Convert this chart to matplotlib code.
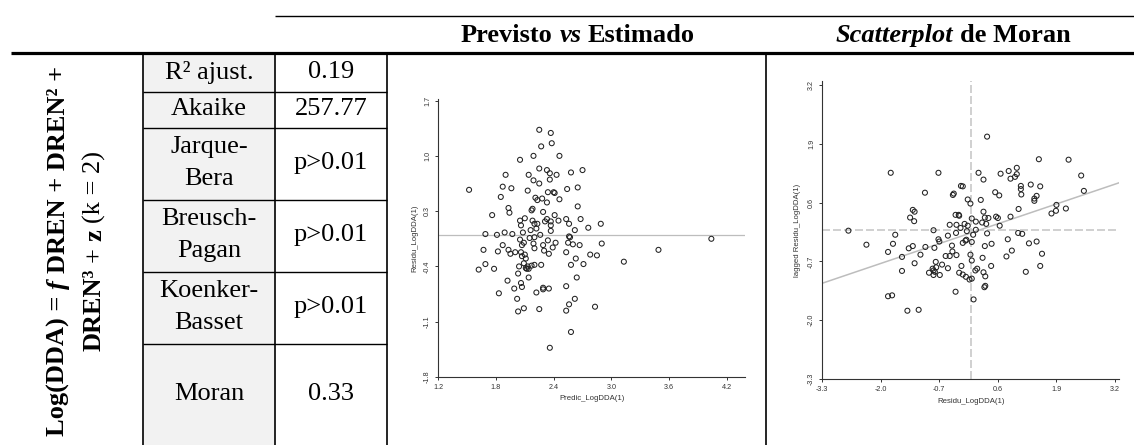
import matplotlib
matplotlib.use('Agg')
import matplotlib.pyplot as plt
from matplotlib.patches import Rectangle

plt.rcParams['font.family'] = 'Liberation Sans'
SERIF = 'Liberation Serif'

# --- dados ---
row_labels = ['R² ajust.', 'Akaike', 'Jarque-\nBera', 'Breusch-\nPagan', 'Koenker-\nBasset', 'Moran']
row_values = ['0.19', '257.77', 'p>0.01', 'p>0.01', 'p>0.01', '0.33']

# Previsto vs Estimado
pred_x = [2.25, 2.37, 2.38, 2.27, 2.19, 2.46, 2.05, 2.25, 2.33, 2.36,
          2.43, 2.58, 2.70, 1.90, 2.14, 2.19, 2.25, 2.36, 1.52, 1.87,
          1.96, 2.13, 2.34, 2.40, 2.41, 2.54, 2.65, 1.85, 2.21, 2.28,
          2.23, 2.33, 2.46, 1.93, 1.94, 2.18, 2.17, 2.29, 2.65, 1.76,
          2.05, 2.10, 2.06, 2.18, 2.20, 2.23, 2.31, 2.33, 2.37, 2.37,
          2.41, 2.45, 2.53, 2.56, 2.68, 2.62, 2.76, 2.89, 1.69, 1.81,
          1.89, 1.97, 2.08, 2.16, 2.22, 2.26, 2.37, 2.15, 2.05, 2.09,
          2.07, 2.19, 2.20, 2.29, 2.20, 2.34, 2.39, 2.42, 2.55, 2.56,
          2.57, 2.60, 2.67, 2.90, 1.67, 1.87, 1.82, 1.93, 1.95, 2.00,
          2.06, 2.07, 2.10, 2.11, 2.30, 2.35, 2.53, 2.63, 2.78, 2.85,
          3.13, 3.49, 4.04, 1.69, 1.62, 1.78, 2.04, 2.09, 2.11, 2.12,
          2.14, 2.13, 2.17, 2.20, 2.27, 2.58, 2.71, 2.03, 2.14, 2.64,
          1.92, 2.06, 2.07, 1.99, 2.29, 2.29, 2.35, 2.22, 2.53, 1.83,
          2.02, 2.62, 2.56, 2.03, 2.09, 2.25, 2.53, 2.83, 2.58, 2.36]
resid_y = [1.33, 1.29, 1.16, 1.12, 1.00, 1.00, 0.95, 0.84, 0.82, 0.78,
           0.76, 0.79, 0.82, 0.76, 0.76, 0.69, 0.65, 0.70, 0.57, 0.61,
           0.59, 0.56, 0.54, 0.54, 0.53, 0.58, 0.60, 0.48, 0.47, 0.46,
           0.44, 0.41, 0.45, 0.34, 0.28, 0.33, 0.31, 0.29, 0.36, 0.25,
           0.18, 0.21, 0.12, 0.18, 0.14, 0.14, 0.17, 0.20, 0.17, 0.12,
           0.25, 0.18, 0.20, 0.14, 0.20, 0.06, 0.09, 0.14, 0.01, 0.00,
           0.03, 0.01, 0.03, 0.06, 0.08, 0.00, 0.05, -0.04, -0.06, -0.10,
           -0.13, -0.11, -0.03, -0.13, -0.17, -0.07, -0.16, -0.10, -0.10, -0.02,
           -0.03, -0.12, -0.13, -0.11, -0.19, -0.13, -0.21, -0.19, -0.24, -0.22,
           -0.22, -0.27, -0.25, -0.30, -0.20, -0.24, -0.22, -0.30, -0.25, -0.26,
           -0.34, -0.19, -0.05, -0.37, -0.44, -0.43, -0.40, -0.36, -0.42, -0.43,
           -0.43, -0.40, -0.39, -0.38, -0.38, -0.38, -0.37, -0.49, -0.54, -0.54,
           -0.58, -0.61, -0.66, -0.68, -0.67, -0.69, -0.68, -0.73, -0.65, -0.74,
           -0.81, -0.81, -0.88, -0.97, -0.93, -0.94, -0.96, -0.91, -1.23, -1.43]

# Scatterplot de Moran
moran_x = [0.36, 1.51, 2.17, -1.78, -0.72, 0.17, 0.66, 0.84, 1.02, 1.02,
           0.98, 0.88, 0.28, 2.45, 1.33, 1.11, 1.11, 1.54, -0.22, -0.18,
           -1.02, -0.38, -0.40, 0.54, 0.63, 1.12, 1.46, 1.41, 1.41, 2.51,
           -0.07, -0.01, 0.22, 1.90, 1.89, 1.79, 2.11, -1.29, -1.25, -1.35,
           -1.26, 0.28, 0.56, 0.60, 0.88, 1.06, -0.34, -0.27, -0.26, 0.02,
           0.31, 0.25, 0.34, 0.39, 0.64, 0.11, -0.14, -0.07, -0.47, -0.32,
           -0.23, 0.11, -0.83, -0.33, -0.51, -0.09, 0.05, 0.36, 1.05, 1.14,
           -2.72, -1.68, -2.32, -0.72, -0.70, -0.12, -0.10, -0.18, 0.02, 0.31,
           0.46, 0.82, 1.29, 1.46, -1.73, -1.29, -1.38, -1.01, -0.81, -0.42,
           -0.41, -1.84, 0.91, -1.53, -1.12, -0.56, -0.47, -0.32, -0.01, 0.79,
           1.58, -1.25, -0.78, -0.64, -0.51, -0.85, -0.80, -0.77, -0.21, 0.02,
           0.26, 0.45, 1.54, -1.53, -0.93, -0.83, -0.69, -0.83, -0.26, -0.18,
           -0.11, -0.03, 0.02, 0.10, 0.14, 0.28, 0.32, 0.32, 0.30, 1.22,
           -0.34, 0.06, -1.84, -1.75, -1.41, -1.16]
moran_lag = [2.06, 1.56, 1.55, 1.26, 1.26, 1.26, 1.24, 1.30, 1.37, 1.23,
             1.17, 1.13, 1.11, 1.20, 1.00, 0.97, 0.90, 0.96, 0.97, 0.96,
             0.82, 0.80, 0.77, 0.83, 0.76, 0.78, 0.75, 0.69, 0.64, 0.86,
             0.67, 0.58, 0.66, 0.55, 0.42, 0.36, 0.47, 0.44, 0.40, 0.27,
             0.19, 0.40, 0.29, 0.26, 0.29, 0.46, 0.33, 0.33, 0.31, 0.25,
             0.27, 0.16, 0.13, 0.26, 0.09, 0.18, 0.13, 0.09, 0.11, 0.11,
             0.04, 0.00, -0.01, -0.07, -0.13, -0.03, -0.11, -0.08, -0.07, -0.09,
             -0.02, -0.11, -0.33, -0.21, -0.26, -0.24, -0.22, -0.29, -0.27, -0.36,
             -0.31, -0.21, -0.30, -0.26, -0.31, -0.36, -0.41, -0.38, -0.40, -0.35,
             -0.48, -0.49, -0.46, -0.60, -0.55, -0.58, -0.58, -0.56, -0.55, -0.59,
             -0.53, -0.74, -0.71, -0.77, -0.85, -0.86, -0.93, -0.83, -0.80, -0.68,
             -0.62, -0.80, -0.80, -0.91, -0.95, -1.00, -1.00, -0.90, -0.95, -0.99,
             -1.04, -1.10, -1.08, -0.90, -0.86, -0.94, -1.03, -1.24, -1.27, -0.93,
             -1.37, -1.54, -1.47, -1.45, -1.79, -1.77]
moran_slope = 0.337
moran_icept = -0.07

pred_xticks = [1.2, 1.8, 2.4, 3.0, 3.6, 4.2]
pred_yticks = [-1.8, -1.1, -0.4, 0.3, 1.0, 1.7]
moran_ticks = [-3.3, -2.0, -0.7, 0.6, 1.9, 3.2]

# --- figura (coordenadas em pixels) ---
W, H = 1134, 445
fig = plt.figure(figsize=(W / 100, H / 100), dpi=100)
tab = fig.add_axes([0, 0, 1, 1])
tab.set_xlim(0, W)
tab.set_ylim(H, 0)
tab.axis('off')
rend = fig.canvas.get_renderer()

# tabela
row_edges = [53, 91, 127, 199, 271, 343, H]
tab.add_patch(Rectangle((143, 53), 132, H - 53, color='#f2f2f2', lw=0))
tab.plot([275, W], [15.5, 15.5], color='black', lw=1.0, solid_capstyle='butt')
tab.plot([11, W], [52.5, 52.5], color='black', lw=2.3, solid_capstyle='butt')
for xv in [143, 275, 387, 766]:
    tab.plot([xv, xv], [53, H], color='black', lw=1.2, solid_capstyle='butt')
for yv in row_edges[1:-1]:
    tab.plot([143, 387], [yv + 0.5, yv + 0.5], color='black', lw=1.0, solid_capstyle='butt')

for i, (lab, val) in enumerate(zip(row_labels, row_values)):
    cy = (row_edges[i] + row_edges[i + 1]) / 2
    tab.text(209, cy, lab, ha='center', va='center', fontsize=19, family=SERIF,
             linespacing=1.6, multialignment='center')
    tab.text(331, cy, val, ha='center', va='center', fontsize=19, family=SERIF)


def text_width(s, **kw):
    t = tab.text(0, 0, s, **kw)
    w = t.get_window_extent(rend).width
    t.remove()
    return w


def rich_line(x, y, parts, size=19, vertical=False):
    sp = 0.25 * size * 100 / 72
    widths = [text_width(s, fontsize=size, family=SERIF, weight=w, style=st) for s, w, st in parts]
    pos = -(sum(widths) + sp * (len(parts) - 1)) / 2
    for (s, w, st), wd in zip(parts, widths):
        if vertical:
            tab.text(x, y - pos, s, rotation=90, rotation_mode='anchor', ha='left', va='baseline',
                     fontsize=size, family=SERIF, weight=w, style=st)
        else:
            tab.text(x + pos, y, s, ha='left', va='baseline',
                     fontsize=size, family=SERIF, weight=w, style=st)
        pos += wd + sp


rich_line(578, 42, [('Previsto', 'bold', 'normal'), ('vs', 'bold', 'italic'), ('Estimado', 'bold', 'normal')])
rich_line(953, 42, [('Scatterplot', 'bold', 'italic'), ('de Moran', 'bold', 'normal')])
rich_line(65, 251, [('Log(DDA) =', 'bold', 'normal'), ('f', 'bold', 'italic'),
                    ('DREN + DREN² +', 'bold', 'normal')], vertical=True)
rich_line(101, 251, [('DREN³', 'bold', 'normal'), ('+', 'normal', 'normal'),
                     ('z', 'bold', 'normal'), ('(k = 2)', 'normal', 'normal')], vertical=True)


def px_axes(l, t, r, b):
    return fig.add_axes([l / W, 1 - b / H, (r - l) / W, (b - t) / H])


def style(ax, xt, yt, xlabel, ylabel, xpad, ypad):
    ax.set_facecolor('none')
    for s in ['top', 'right']:
        ax.spines[s].set_visible(False)
    for s in ['left', 'bottom']:
        ax.spines[s].set_color('#333333')
        ax.spines[s].set_linewidth(0.8)
    ax.set_xticks(xt, [f'{v:.1f}' for v in xt])
    ax.set_yticks(yt, [f'{v:.1f}' for v in yt])
    ax.tick_params(length=2.5, width=0.7, color='#333333', labelsize=5.2,
                   labelcolor='#333333', pad=2.8)
    ax.tick_params(axis='y', labelrotation=90)
    plt.setp(ax.get_yticklabels(), va='center')
    ax.set_xlabel(xlabel, fontsize=5.6, color='#333333', labelpad=xpad)
    ax.set_ylabel(ylabel, fontsize=5.6, color='#333333', labelpad=ypad)


# Previsto vs Estimado
ax1 = px_axes(438.3, 99, 745, 377)
ax1.axhline(0, color='#bdbdbd', lw=0.9, zorder=2)
ax1.scatter(pred_x, resid_y, s=13, facecolors='none', edgecolors='#222222', linewidths=0.75, zorder=3)
ax1.set_xlim(1.2, 4.39)
ax1.set_ylim(-1.8, 1.72)
style(ax1, pred_xticks, pred_yticks, 'Predic_LogDDA(1)', 'Residu_LogDDA(1)', 2.5, 4)

# Scatterplot de Moran
ax2 = px_axes(822.3, 81, 1119, 379)
ax2.axhline(0, color='#c8c8c8', lw=1.2, ls=(0, (4.8, 1.8)), zorder=1)
ax2.axvline(0, color='#c8c8c8', lw=1.2, ls=(0, (4.8, 1.8)), zorder=1)
ax2.axline((0, moran_icept), slope=moran_slope, color='#bdbdbd', lw=1.1, zorder=2)
ax2.scatter(moran_x, moran_lag, s=13, facecolors='none', edgecolors='#222222', linewidths=0.75, zorder=3)
ax2.set_xlim(-3.3, 3.29)
ax2.set_ylim(-3.3, 3.29)
style(ax2, moran_ticks, moran_ticks, 'Residu_LogDDA(1)', 'lagged Residu_LogDDA(1)', 3.5, 5)

fig.savefig('out.png', dpi=100)
